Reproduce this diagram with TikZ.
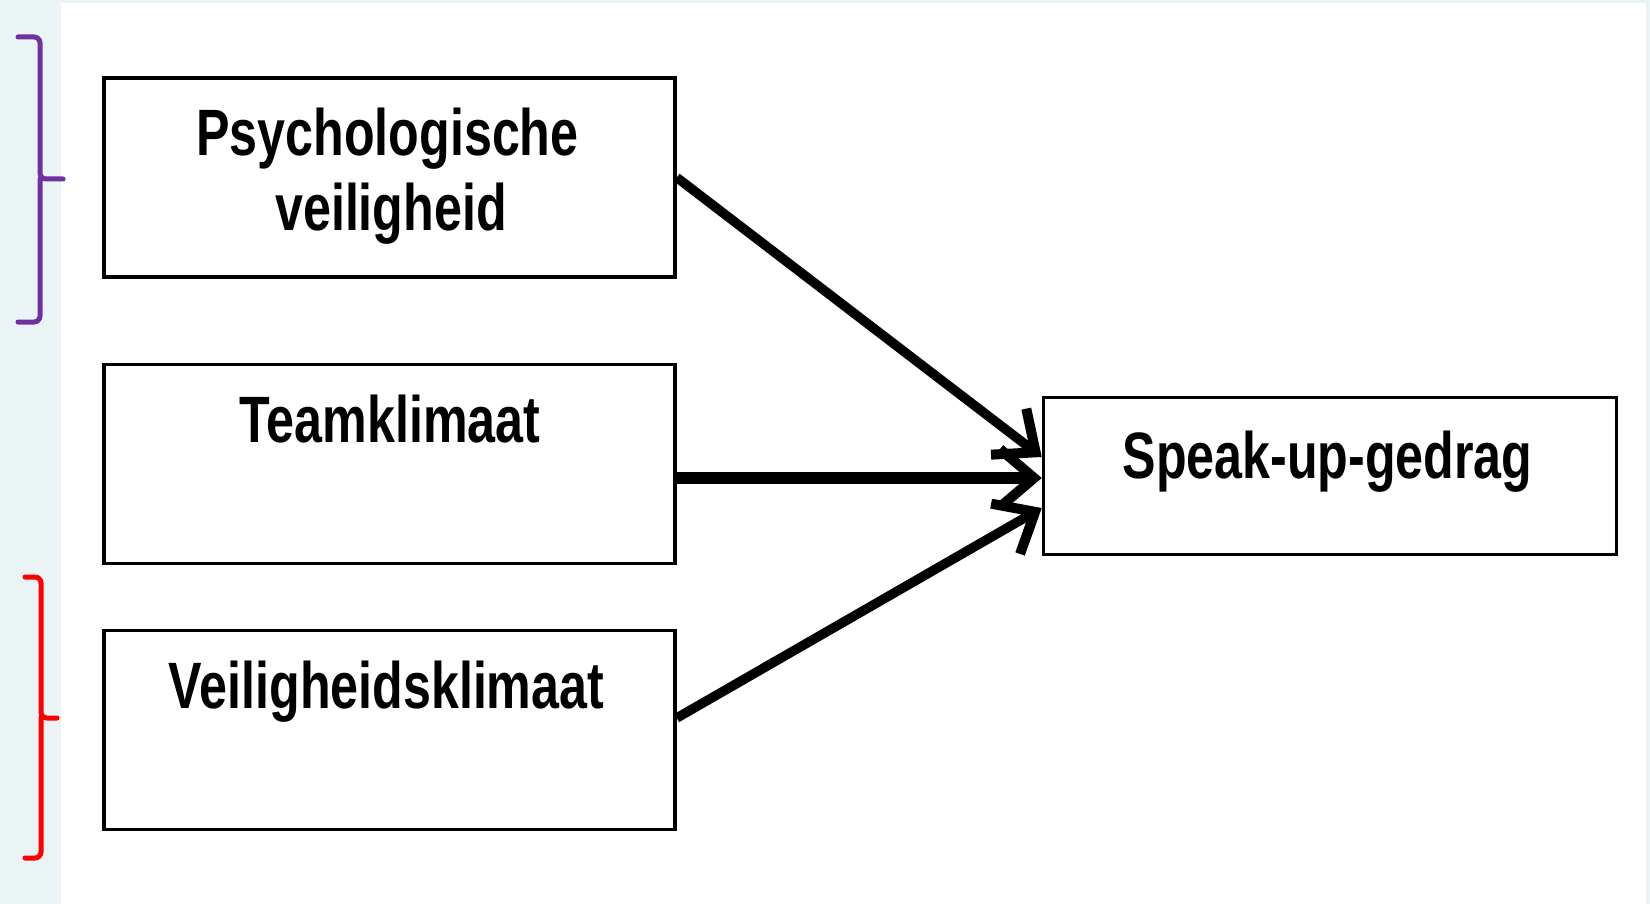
\documentclass[tikz,border=0pt]{standalone}
\usepackage{fontspec}
\newfontfamily\lbl{Liberation Sans}[FakeStretch=0.765]
\usetikzlibrary{arrows.meta}
\definecolor{bgstrip}{HTML}{EAF4F5}
\definecolor{bracepurple}{HTML}{7030A0}
\definecolor{bracered}{HTML}{FF0000}
\tikzset{
  box/.style={draw=black, line width=3.5pt, inner sep=0pt, minimum width=571pt, fill=white},
  lab/.style={anchor=base, inner sep=0pt, font=\lbl\bfseries\fontsize{65.6}{74}\selectfont},
  conn/.style={draw=black, line width=9.5pt, -{Straight Barb[length=34pt,width=58pt,line width=10pt]}},
  brace/.style={line width=5pt, rounded corners=6pt, line cap=round}
}
\begin{document}
\begin{tikzpicture}[x=1pt,y=-1pt]
  \useasboundingbox (0,0) rectangle (1650,904);
  \fill[bgstrip] (0,0) rectangle (1650,904);
  \fill[white] (61,3) rectangle (1646,904);

  % boxes
  \node[box, minimum height=199pt] (b1) at (389.5,177.5) {};
  \node[box, minimum height=199pt] (b2) at (389.5,464) {};
  \node[box, minimum height=199pt] (b3) at (389.5,730) {};
  \node[box, minimum width=573pt, minimum height=157pt] (b4) at (1330,476) {};

  % labels
  \node[lab] (t1a) at (387.5,156) {Psychologische};
  \node[lab] (t1b) at (391,231) {veiligheid};
  \node[lab] (t2) at (390,442) {Teamklimaat};
  \node[lab] (t3) at (386.5,708) {Veiligheidsklimaat};
  \node[lab] (t4) at (1327.5,478) {Speak-up-gedrag};

  % connectors
  \draw[conn] (b1.east) -- ([yshift=19pt]b4.west);
  \draw[conn, line width=12pt] ([yshift=-14pt]b2.east) -- ([yshift=-2pt]b4.west);
  \draw[conn] ([yshift=12pt]b3.east) -- ([yshift=-32pt]b4.west);

  % braces
  \draw[brace, bracepurple] (18,37) -- (40,37) -- (40,179) -- (63,179);
  \draw[brace, bracepurple] (18,322) -- (40,322) -- (40,179);
  \draw[brace, bracered] (25,577) -- (41,577) -- (41,718) -- (57,718);
  \draw[brace, bracered] (25,858) -- (41,858) -- (41,718);
\end{tikzpicture}
\end{document}
